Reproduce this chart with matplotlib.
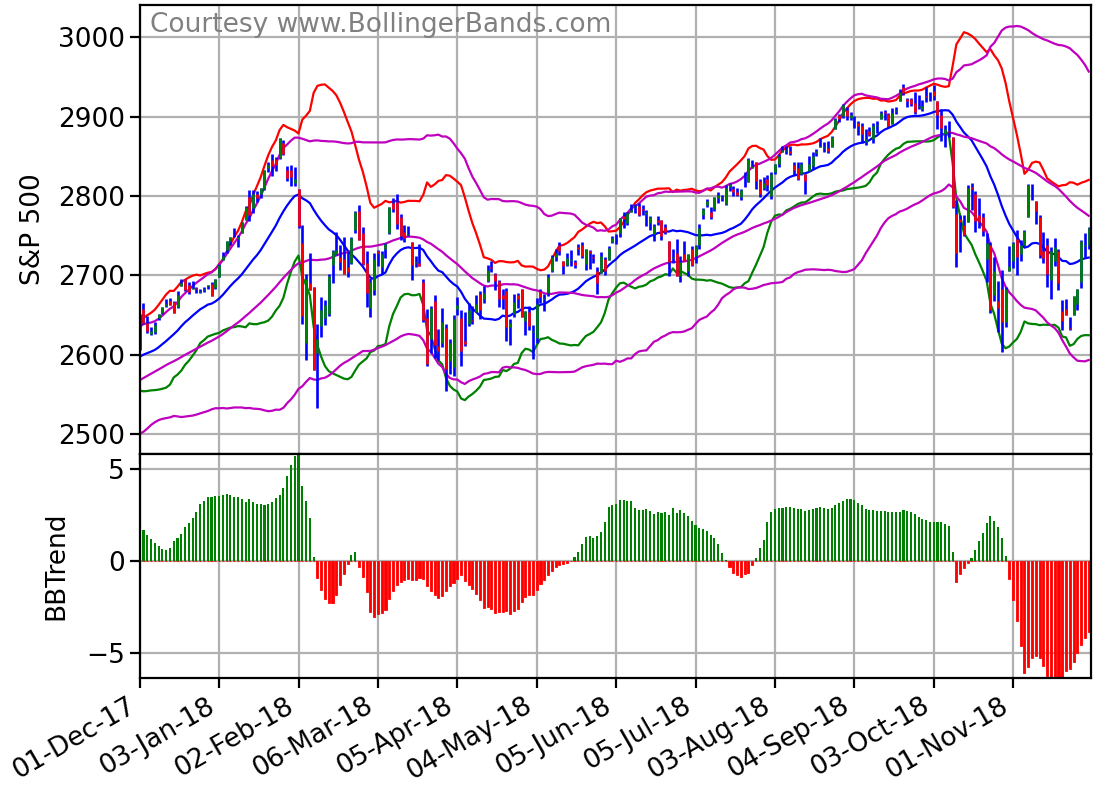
import numpy as np
import pandas as pd
import matplotlib
matplotlib.use('Agg')
import matplotlib.pyplot as plt

# S&P 500 closes before the chart window (needed to warm up the 20/50 day bands)
warmup_close = [2506.65, 2508.24, 2500.60, 2502.22, 2496.66, 2496.84, 2507.04, 2510.06, 2519.36,
                2529.12, 2534.58, 2537.74, 2552.07, 2549.33, 2544.73, 2550.64, 2555.24, 2550.93,
                2553.17, 2557.64, 2559.36, 2561.26, 2562.10, 2575.21, 2564.98, 2569.13, 2557.15,
                2560.40, 2581.07, 2572.83, 2575.26,
                2579.36, 2579.85, 2587.84, 2591.13, 2590.64, 2594.38, 2584.62, 2582.30, 2584.84,
                2578.87, 2564.62, 2585.64, 2578.85, 2582.14, 2599.03, 2597.08, 2602.42, 2601.42,
                2627.04, 2626.07, 2647.58]

# daily bars 01-Dec-17 .. 30-Nov-18
open_ = [2645.10, 2657.19, 2639.78, 2626.24, 2628.38, 2646.21, 2652.19, 2661.73, 2667.59, 2665.87,
         2660.63, 2685.92, 2694.95, 2688.18, 2683.02, 2684.22, 2679.09, 2682.10, 2686.10, 2689.15,
         2683.73, 2697.85, 2719.31, 2731.33, 2742.67, 2751.15, 2745.55, 2752.97, 2770.18, 2798.96,
         2784.99, 2802.40, 2802.60, 2809.16, 2835.05, 2845.42, 2846.24, 2847.48, 2867.23, 2832.74,
         2832.41, 2816.45, 2808.92, 2741.06, 2614.78, 2690.95, 2685.01, 2601.78, 2636.75, 2646.27,
         2651.21, 2713.46, 2727.14, 2722.99, 2720.53, 2710.42, 2715.80, 2757.37, 2780.45, 2753.78,
         2715.22, 2658.89, 2681.06, 2730.18, 2710.18, 2732.75, 2752.91, 2790.54, 2792.31, 2774.06,
         2754.27, 2750.57, 2741.38, 2715.05, 2714.99, 2691.36, 2646.71, 2619.35, 2667.57, 2611.30,
         2614.41, 2633.45, 2592.17, 2584.04, 2657.36, 2645.82, 2617.18, 2638.41, 2643.89, 2653.83,
         2676.90, 2670.10, 2692.74, 2710.11, 2701.16, 2692.56, 2675.40, 2680.80, 2634.92, 2651.65,
         2675.47, 2682.51, 2642.96, 2654.24, 2628.08, 2621.45, 2680.34, 2670.26, 2678.12, 2705.02,
         2722.70, 2738.47, 2718.59, 2712.62, 2719.71, 2717.35, 2735.39, 2738.34, 2713.98, 2730.94,
         2723.60, 2705.11, 2702.43, 2720.98, 2718.70, 2741.67, 2748.46, 2753.25, 2774.84, 2765.84,
         2780.18, 2785.60, 2787.94, 2783.21, 2777.78, 2765.79, 2752.01, 2769.73, 2769.28, 2760.79,
         2742.94, 2722.12, 2728.45, 2698.69, 2727.13, 2704.95, 2733.27, 2724.19, 2737.68, 2775.62,
         2788.56, 2779.82, 2783.14, 2796.93, 2797.36, 2789.34, 2811.35, 2809.37, 2804.55, 2799.17,
         2820.68, 2817.73, 2835.49, 2842.35, 2819.00, 2809.73, 2821.17, 2800.48, 2829.62, 2840.29,
         2855.92, 2856.79, 2857.19, 2838.90, 2835.46, 2827.88, 2827.95, 2831.44, 2838.32, 2853.93,
         2861.51, 2860.99, 2860.29, 2862.35, 2884.69, 2901.45, 2900.62, 2908.94, 2898.37, 2896.96,
         2891.59, 2888.64, 2868.26, 2881.39, 2871.57, 2888.29, 2896.85, 2906.38, 2903.83, 2890.74,
         2906.60, 2919.73, 2936.76, 2921.83, 2921.75, 2916.98, 2911.65, 2910.03, 2926.29, 2923.80,
         2931.69, 2919.35, 2902.54, 2877.53, 2882.51, 2873.90, 2776.87, 2770.54, 2763.83, 2767.05,
         2811.67, 2802.00, 2775.66, 2773.94, 2721.03, 2737.87, 2674.88, 2667.86, 2682.65, 2640.68,
         2705.60, 2717.58, 2745.45, 2726.37, 2738.40, 2774.13, 2806.38, 2794.10, 2773.93, 2730.05,
         2737.90, 2693.52, 2718.54, 2730.74, 2654.60, 2657.74, 2633.36, 2649.97, 2663.75, 2691.45,
         2736.97, 2737.76]
high = [2650.62, 2665.19, 2648.72, 2634.41, 2640.99, 2651.65, 2660.33, 2669.72, 2671.88, 2668.09,
        2679.63, 2694.97, 2695.44, 2691.01, 2692.64, 2685.35, 2682.74, 2685.64, 2687.66, 2692.12,
        2695.89, 2714.37, 2729.29, 2743.45, 2748.51, 2759.14, 2750.80, 2767.56, 2787.85, 2807.54,
        2807.04, 2805.83, 2810.33, 2833.03, 2842.24, 2852.97, 2848.56, 2872.87, 2870.62, 2837.75,
        2839.26, 2835.96, 2808.92, 2763.39, 2701.04, 2727.67, 2685.27, 2638.67, 2672.61, 2668.84,
        2702.10, 2731.51, 2754.42, 2737.60, 2747.75, 2731.26, 2747.76, 2780.64, 2789.15, 2761.52,
        2730.89, 2696.25, 2728.09, 2732.08, 2730.60, 2740.45, 2786.57, 2796.98, 2801.90, 2777.11,
        2763.03, 2761.85, 2741.38, 2724.22, 2739.14, 2695.68, 2657.67, 2661.36, 2674.78, 2632.65,
        2659.07, 2638.30, 2619.14, 2649.86, 2672.08, 2656.88, 2653.55, 2665.45, 2661.43, 2674.72,
        2680.26, 2686.49, 2713.34, 2717.49, 2702.84, 2693.94, 2682.86, 2683.55, 2645.30, 2676.48,
        2677.35, 2682.87, 2655.27, 2660.87, 2637.14, 2670.93, 2683.35, 2676.34, 2701.27, 2726.11,
        2732.86, 2742.10, 2718.59, 2727.76, 2731.96, 2719.50, 2739.19, 2742.24, 2733.33, 2731.97,
        2727.36, 2710.67, 2729.34, 2722.50, 2736.93, 2749.16, 2752.61, 2772.39, 2779.90, 2779.39,
        2790.21, 2789.80, 2791.47, 2789.06, 2782.81, 2774.99, 2765.05, 2774.86, 2769.28, 2764.17,
        2742.94, 2732.91, 2746.09, 2724.34, 2743.26, 2727.26, 2736.58, 2737.83, 2764.41, 2784.65,
        2795.58, 2785.91, 2799.22, 2804.53, 2801.19, 2814.19, 2816.76, 2812.05, 2809.70, 2808.61,
        2829.99, 2848.03, 2845.57, 2843.17, 2821.74, 2824.46, 2825.83, 2829.91, 2840.38, 2853.29,
        2863.43, 2862.44, 2862.48, 2842.20, 2843.40, 2843.11, 2827.95, 2850.49, 2855.63, 2859.76,
        2873.23, 2867.54, 2868.78, 2876.16, 2898.25, 2903.77, 2916.50, 2912.46, 2906.32, 2900.18,
        2894.21, 2892.05, 2883.81, 2886.93, 2892.52, 2894.65, 2906.76, 2908.30, 2904.65, 2911.17,
        2912.36, 2934.80, 2940.91, 2923.79, 2923.95, 2931.15, 2927.22, 2920.53, 2937.06, 2931.42,
        2939.86, 2919.78, 2909.64, 2889.45, 2894.83, 2874.02, 2795.14, 2775.77, 2775.99, 2813.46,
        2816.94, 2806.04, 2797.77, 2778.94, 2753.59, 2742.59, 2722.70, 2692.38, 2706.85, 2685.43,
        2736.69, 2741.67, 2756.55, 2744.27, 2756.82, 2815.15, 2814.75, 2794.10, 2775.99, 2754.60,
        2746.80, 2735.38, 2746.75, 2733.16, 2669.44, 2670.73, 2647.55, 2674.35, 2682.53, 2744.00,
        2753.75, 2760.88]
low = [2605.52, 2639.03, 2627.73, 2624.75, 2626.53, 2644.10, 2651.47, 2659.78, 2662.85, 2652.01,
       2659.14, 2685.92, 2680.74, 2676.11, 2682.40, 2678.13, 2677.96, 2678.91, 2682.69, 2673.61,
       2682.36, 2697.77, 2719.07, 2727.92, 2737.60, 2747.86, 2736.06, 2752.78, 2769.64, 2768.64,
       2778.38, 2792.56, 2798.08, 2808.12, 2830.59, 2824.81, 2830.94, 2846.18, 2851.48, 2818.27,
       2813.04, 2812.70, 2759.97, 2638.17, 2593.07, 2681.33, 2580.56, 2532.69, 2622.45, 2637.08,
       2648.87, 2689.82, 2725.11, 2706.76, 2701.29, 2697.77, 2713.74, 2753.78, 2744.22, 2713.54,
       2659.65, 2647.32, 2675.75, 2711.26, 2701.74, 2721.92, 2751.54, 2779.26, 2758.68, 2744.38,
       2741.47, 2749.97, 2694.59, 2710.05, 2711.93, 2641.59, 2585.89, 2601.81, 2596.12, 2593.06,
       2609.72, 2553.80, 2575.49, 2573.61, 2649.58, 2586.27, 2610.79, 2635.78, 2639.25, 2653.83,
       2645.05, 2665.16, 2692.05, 2703.63, 2681.90, 2660.61, 2657.99, 2617.32, 2612.67, 2647.16,
       2659.01, 2648.04, 2625.41, 2631.70, 2594.62, 2615.32, 2664.70, 2655.20, 2674.14, 2704.54,
       2717.45, 2725.47, 2701.91, 2712.17, 2711.36, 2709.18, 2725.70, 2721.88, 2707.16, 2707.38,
       2714.99, 2676.81, 2702.43, 2700.68, 2718.70, 2740.54, 2739.51, 2748.46, 2760.16, 2763.59,
       2780.17, 2778.78, 2774.65, 2776.52, 2761.73, 2757.12, 2743.19, 2763.91, 2744.39, 2752.68,
       2698.67, 2715.60, 2699.38, 2691.99, 2718.03, 2698.95, 2711.16, 2716.02, 2733.52, 2770.73,
       2786.24, 2770.77, 2781.53, 2791.69, 2793.39, 2789.24, 2805.89, 2799.77, 2800.01, 2795.14,
       2811.12, 2817.73, 2835.26, 2808.34, 2798.11, 2808.06, 2805.85, 2796.34, 2827.37, 2835.98,
       2855.92, 2853.09, 2851.98, 2825.81, 2819.88, 2826.58, 2802.49, 2831.44, 2833.73, 2850.62,
       2861.32, 2856.05, 2854.03, 2862.35, 2884.69, 2893.50, 2898.40, 2895.22, 2895.77, 2885.13,
       2876.92, 2867.29, 2864.12, 2875.94, 2866.78, 2879.20, 2896.39, 2895.77, 2886.16, 2890.43,
       2903.82, 2919.73, 2927.11, 2912.63, 2913.70, 2903.28, 2909.27, 2907.50, 2917.91, 2919.37,
       2921.36, 2883.92, 2869.29, 2862.08, 2874.27, 2784.86, 2710.51, 2729.44, 2749.03, 2766.91,
       2781.81, 2755.18, 2760.27, 2749.22, 2691.43, 2651.89, 2667.84, 2628.16, 2603.54, 2635.34,
       2705.60, 2708.85, 2700.44, 2717.94, 2737.08, 2774.13, 2794.99, 2764.24, 2722.00, 2714.98,
       2685.75, 2670.75, 2712.16, 2681.09, 2631.52, 2649.82, 2631.09, 2649.97, 2655.89, 2684.38,
       2722.94, 2732.76]
close = [2642.22, 2639.44, 2629.57, 2629.27, 2636.98, 2651.50, 2659.99, 2664.11, 2662.85, 2652.01,
         2675.81, 2690.16, 2681.47, 2679.25, 2684.57, 2683.34, 2680.50, 2682.62, 2687.54, 2673.61,
         2695.81, 2713.06, 2723.99, 2743.15, 2747.71, 2751.29, 2748.23, 2767.56, 2786.24, 2776.42,
         2802.56, 2798.03, 2810.30, 2832.97, 2839.13, 2837.54, 2839.25, 2872.87, 2853.53, 2822.43,
         2823.81, 2821.98, 2762.13, 2648.94, 2695.14, 2681.66, 2581.00, 2619.55, 2656.00, 2662.94,
         2698.63, 2731.20, 2732.22, 2716.26, 2701.33, 2703.96, 2747.30, 2779.60, 2744.28, 2713.83,
         2677.67, 2691.25, 2720.94, 2728.12, 2726.80, 2738.97, 2786.57, 2783.02, 2765.31, 2749.48,
         2747.33, 2752.01, 2712.92, 2716.94, 2711.93, 2643.69, 2588.26, 2658.55, 2612.62, 2605.00,
         2640.87, 2581.88, 2614.45, 2644.69, 2662.84, 2604.47, 2613.16, 2656.87, 2642.19, 2663.99,
         2656.30, 2677.84, 2706.39, 2708.64, 2693.13, 2670.14, 2670.29, 2634.56, 2639.40, 2666.94,
         2669.91, 2648.05, 2654.80, 2635.67, 2629.73, 2663.42, 2672.63, 2671.92, 2697.79, 2723.07,
         2727.72, 2730.13, 2711.45, 2722.46, 2720.13, 2712.97, 2733.01, 2724.44, 2733.29, 2727.76,
         2721.33, 2689.86, 2724.01, 2705.27, 2734.62, 2746.87, 2748.80, 2772.35, 2770.37, 2779.03,
         2782.00, 2786.85, 2775.63, 2782.49, 2779.66, 2773.75, 2762.59, 2767.32, 2749.76, 2754.88,
         2717.07, 2723.06, 2699.63, 2716.31, 2718.37, 2726.71, 2713.22, 2736.61, 2759.82, 2784.17,
         2793.84, 2774.02, 2798.29, 2801.31, 2798.43, 2809.55, 2815.62, 2804.49, 2801.83, 2806.98,
         2820.40, 2846.07, 2837.44, 2818.82, 2802.60, 2816.29, 2813.36, 2827.22, 2840.35, 2850.40,
         2858.45, 2857.70, 2853.58, 2833.28, 2821.93, 2839.96, 2818.37, 2840.69, 2850.13, 2857.05,
         2862.96, 2861.82, 2856.98, 2874.69, 2896.74, 2897.52, 2914.04, 2901.13, 2901.52, 2896.72,
         2888.60, 2878.05, 2871.68, 2877.13, 2887.89, 2888.92, 2904.18, 2904.98, 2888.80, 2904.31,
         2907.95, 2930.75, 2929.67, 2919.37, 2915.56, 2905.97, 2914.00, 2913.98, 2924.59, 2923.43,
         2925.51, 2901.61, 2885.57, 2884.43, 2880.34, 2785.68, 2728.37, 2767.13, 2750.79, 2809.92,
         2809.21, 2768.78, 2767.78, 2755.88, 2740.69, 2656.10, 2705.57, 2658.69, 2641.25, 2682.63,
         2711.74, 2740.37, 2723.06, 2738.31, 2755.45, 2813.89, 2806.83, 2781.01, 2726.22, 2722.18,
         2701.58, 2730.20, 2736.27, 2690.73, 2641.89, 2649.93, 2632.56, 2673.45, 2682.17, 2743.79,
         2737.80, 2760.17]

tick_pos = [0, 21, 42, 63, 84, 105, 126, 147, 168, 189, 210, 231]
tick_labels = ['01-Dec-17', '03-Jan-18', '02-Feb-18', '06-Mar-18', '05-Apr-18', '04-May-18',
               '05-Jun-18', '05-Jul-18', '03-Aug-18', '04-Sep-18', '03-Oct-18', '01-Nov-18']

# Bollinger bands 20/2 and 50/2, BBTrend
full = pd.Series(warmup_close + close)
mid20 = full.rolling(20).mean()
sd20 = full.rolling(20).std(ddof=0)
mid50 = full.rolling(50).mean()
sd50 = full.rolling(50).std(ddof=0)
n = len(close)
mid20 = mid20.values[-n:]
up20 = mid20 + 2 * sd20.values[-n:]
lo20 = mid20 - 2 * sd20.values[-n:]
mid50 = mid50.values[-n:]
up50 = mid50 + 2.0 * sd50.values[-n:]
lo50 = mid50 - 2.0 * sd50.values[-n:]
bbtrend = (np.abs(lo20 - lo50) - np.abs(up20 - up50)) / mid20 * 100

x = np.arange(n)
o = np.array(open_)
c = np.array(close)

plt.rcParams['font.size'] = 19
plt.rcParams['axes.linewidth'] = 1.6
plt.rcParams['xtick.major.size'] = 7
plt.rcParams['ytick.major.size'] = 7
plt.rcParams['xtick.major.width'] = 1.6
plt.rcParams['ytick.major.width'] = 1.6

fig = plt.figure(figsize=(10.95, 7.86), dpi=100)
ax1 = fig.add_axes([139.7 / 1095, 332 / 786, 951.3 / 1095, 449 / 786])
ax2 = fig.add_axes([139.7 / 1095, 107.7 / 786, 951.3 / 1095, 224.3 / 786], sharex=ax1)

lw = 1.6
ax1.plot(x, up20, 'r', lw=lw)
ax1.plot(x, mid20, 'b', lw=lw)
ax1.plot(x, lo20, 'g', lw=lw)
ax1.plot(x, up50, 'm', lw=lw)
ax1.plot(x, mid50, 'm', lw=lw)
ax1.plot(x, lo50, 'm', lw=lw)

ax1.vlines(x, low, high, colors='b', lw=1.9)
body_col = np.where(c >= o, 'g', 'r')
ax1.vlines(x, o, c, colors=body_col, lw=1.9)

ax1.set_ylim(2474.8, 3040.7)
ax1.set_yticks([2500, 2600, 2700, 2800, 2900, 3000])
ax1.set_ylabel('S&P 500', labelpad=9)
ax1.grid(True, color='#b0b0b0', lw=1.6)
ax1.set_axisbelow(True)
ax1.tick_params(labelbottom=False)
ax1.text(0.011, 0.985, 'Courtesy www.BollingerBands.com', transform=ax1.transAxes,
         color='gray', va='top', ha='left')

ax2.bar(x, np.maximum(bbtrend, 0), width=0.55, color='g')
ax2.bar(x, np.minimum(bbtrend, 0), width=0.55, color='r', edgecolor='r', lw=0.6)
ax2.set_ylim(-6.36, 5.81)
ax2.set_yticks([-5, 0, 5])
ax2.set_ylabel('BBTrend', labelpad=12)
ax2.grid(True, color='#b0b0b0', lw=1.6)
ax2.set_axisbelow(True)

ax2.set_xlim(0, 251.6)
ax2.set_xticks(tick_pos)
ax2.set_xticklabels(tick_labels, rotation=30, ha='right')

fig.savefig('out.png', dpi=100)
